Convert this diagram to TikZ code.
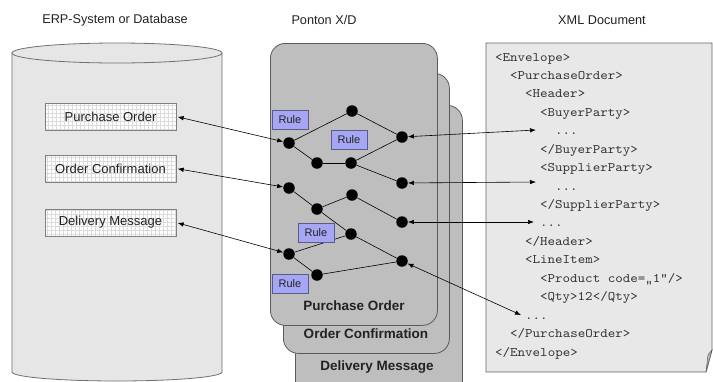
\documentclass[tikz,border=0pt]{standalone}
\usepackage{fontspec}
\setmainfont{Liberation Sans}
\newfontfamily\xmlfont{lmmono10-regular.otf}[FakeStretch=1.1]
\usetikzlibrary{arrows.meta}
\definecolor{cardfill}{HTML}{BEBEBE}
\definecolor{cardline}{HTML}{5A5A5A}
\definecolor{cylfill}{HTML}{E6E6E6}
\definecolor{cylline}{HTML}{707070}
\definecolor{docfill}{HTML}{E8E8E8}
\definecolor{rulefill}{HTML}{A6A6F4}
\definecolor{ruleline}{HTML}{5A5A8C}
\definecolor{txt}{HTML}{222222}
\definecolor{xmltxt}{HTML}{333333}
\begin{document}
\begin{tikzpicture}[x=1pt,y=-1pt,
  title/.style={font=\fontsize{12.7pt}{14pt}\selectfont, text=txt},
  msgbox/.style={draw=gray, fill=white, minimum width=131pt, minimum height=27pt, inner sep=0pt,
    font=\fontsize{13pt}{15pt}\selectfont, text=txt,
    path picture={\draw[gray!28, line width=0.3pt, step=4pt] (path picture bounding box.south west) grid (path picture bounding box.north east);}},
  card/.style={draw=cardline, fill=cardfill, line width=0.8pt, rounded corners=15pt, anchor=north west, inner sep=0pt},
  cardlabel/.style={font=\bfseries\fontsize{13.5pt}{15pt}\selectfont, text=txt},
  dot/.style={circle, fill=black, inner sep=0pt, minimum size=11.5pt},
  rulebox/.style={draw=ruleline, fill=rulefill, minimum width=36pt, minimum height=19pt, inner sep=0pt,
    font=\fontsize{11pt}{13pt}\selectfont, text=txt},
  wire/.style={black, line width=0.6pt},
  link/.style={black, line width=0.6pt, {Latex[length=6pt,width=4.5pt]}-{Latex[length=6pt,width=4.5pt]}},
  xmlline/.style={font=\xmlfont\fontsize{13pt}{15pt}\selectfont, text=xmltxt, anchor=base west, inner sep=0pt}
]
\useasboundingbox (0,0) rectangle (713,381);
\fill[white] (0,0) rectangle (713,381);

% titles
\node[title] (t1) at (115,20) {ERP-System or Database};
\node[title] (t2) at (324,20) {Ponton X/D};
\node[title] (t3) at (602,20) {XML Document};

% cylinder
\filldraw[fill=cylfill, draw=cylline, line width=0.8pt]
  (12,53) -- (12,372) arc[start angle=180, end angle=360, x radius=105pt, y radius=9pt] -- (222,53) -- cycle;
\filldraw[fill=cylfill, draw=cylline, line width=0.8pt] (117,53) ellipse[x radius=105pt, y radius=10pt];

% message boxes
\node[msgbox] (po) at (110.5,116.5) {Purchase Order};
\node[msgbox] (oc) at (110.5,168.5) {Order Confirmation};
\node[msgbox] (dm) at (110.5,222.5) {Delivery Message};

% cards
\node[card, minimum width=167pt, minimum height=295pt] (card3) at (295,105) {};
\node[card, minimum width=166pt, minimum height=280pt] (card2) at (283,73) {};
\node[card, minimum width=167pt, minimum height=282pt] (card1) at (270,43) {};
\node[cardlabel] (l1) at (354,306) {Purchase Order};
\node[cardlabel] (l2) at (366,334) {Order Confirmation};
\node[cardlabel] (l3) at (377,367) {Delivery Message};

% XML document
\filldraw[fill=docfill, draw=gray!80!black, line width=0.8pt]
  (486,43) -- (712,43) -- (712,350) -- (706,372) -- (486,372) -- cycle;
\filldraw[fill=gray!55, draw=gray!70!black, line width=0.5pt] (706,372) -- (708,355) -- (712,350) -- cycle;
\foreach \i/\ind/\txt in {
  0/0/{<Envelope>},
  1/2/{<PurchaseOrder>},
  2/4/{<Header>},
  3/6/{<BuyerParty>},
  4/8/{...},
  5/6/{</BuyerParty>},
  6/6/{<SupplierParty>},
  7/8/{...},
  8/6/{</SupplierParty>},
  9/6/{...},
  10/4/{</Header>},
  11/4/{<LineItem>},
  12/6/{<Product code=„1“/>},
  13/6/{<Qty>12</Qty>},
  14/4/{...},
  15/2/{</PurchaseOrder>},
  16/0/{</Envelope>}}
  \node[xmlline] (x\i) at ({495+7.5*\ind},{61+18.44*\i}) {\txt};

% dots
\node[dot] (a1) at (289,143) {};
\node[dot] (a2) at (352,111) {};
\node[dot] (a3) at (317,163) {};
\node[dot] (a4) at (351,163) {};
\node[dot] (a5) at (402,137) {};
\node[dot] (a6) at (402,183) {};
\node[dot] (b1) at (289,188) {};
\node[dot] (b2) at (317,209) {};
\node[dot] (b3) at (352,195) {};
\node[dot] (b4) at (402,222) {};
\node[dot] (c1) at (289,254) {};
\node[dot] (c2) at (351,234) {};
\node[dot] (c3) at (317,275) {};
\node[dot] (c4) at (402,261) {};

% wires
\draw[wire] (a1) -- (a2);
\draw[wire] (a2) -- (a5);
\draw[wire] (a1) -- (a3);
\draw[wire] (a3) -- (a4);
\draw[wire] (a4) -- (a5);
\draw[wire] (a4) -- (a6);
\draw[wire] (b1) -- (b2);
\draw[wire] (b2) -- (b3);
\draw[wire] (b3) -- (b4);
\draw[wire] (b2) -- (c2);
\draw[wire] (c2) -- (c4);
\draw[wire] (c1) -- (c2);
\draw[wire] (c1) -- (c3);
\draw[wire] (c3) -- (c4);

% rules
\node[rulebox] (r1) at (290,120) {Rule};
\node[rulebox] (r2) at (349,140) {Rule};
\node[rulebox] (r3) at (316,233) {Rule};
\node[rulebox] (r4) at (290,284) {Rule};

% links
\coordinate (e1) at (536,130);
\coordinate (e2) at (536,182);
\coordinate (e3) at (534,222);
\coordinate (e4) at (521,315);
\draw[link, shorten <=1.5pt] (po.east) -- (a1);
\draw[link, shorten <=1.5pt] (oc.east) -- (b1);
\draw[link, shorten <=1.5pt] (dm.east) -- (c1);
\draw[link] (a5) -- (e1);
\draw[link] (a6) -- (e2);
\draw[link] (b4) -- (e3);
\draw[link] (c4) -- (e4);
\end{tikzpicture}
\end{document}
